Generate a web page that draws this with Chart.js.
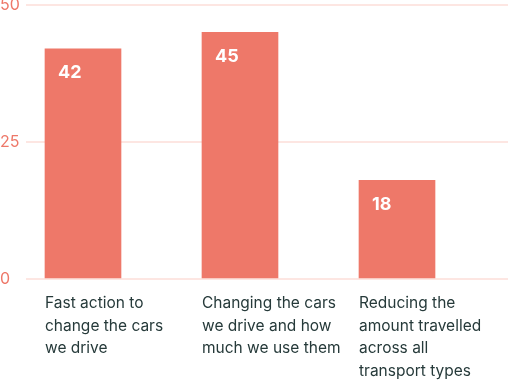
<!DOCTYPE html>
<html>
<head>
<meta charset="utf-8">
<script src="https://cdn.jsdelivr.net/npm/chart.js@4"></script>
<style>
  html, body { margin: 0; padding: 0; background: #ffffff; }
  #wrap { width: 508px; height: 381px; position: relative; }
</style>
</head>
<body>
<div id="wrap"><canvas id="c" width="508" height="381"></canvas></div>
<script>
// ---- data ----
const categories = [
  ["Fast action to", "change the cars", "we drive"],
  ["Changing the cars", "we drive and how", "much we use them"],
  ["Reducing the", "amount travelled", "across all", "transport types"]
];
const values = [42, 45, 18];
const yTickValues = [0, 25, 50];

// ---- styles ----
const barColor = "#ee7869";
const gridColor = "#fde6e2";
const yLabelColor = "#ee7869";
const xLabelColor = "#263a3a";
const fontFamily = "Inter, 'Noto Sans', sans-serif";

const barPositions = values.map((v, i) => i);

const valueLabelPlugin = {
  id: "valueLabels",
  afterDatasetsDraw(chart) {
    const ctx = chart.ctx;
    const meta = chart.getDatasetMeta(0);
    ctx.save();
    ctx.fillStyle = "#ffffff";
    ctx.font = "bold 18px " + fontFamily;
    ctx.textAlign = "left";
    ctx.textBaseline = "middle";
    meta.data.forEach((bar, i) => {
      const left = bar.x - bar.width / 2;
      ctx.fillText(String(values[i]), left + 13, bar.y + 24);
    });
    ctx.restore();
  }
};

new Chart(document.getElementById("c"), {
  type: "bar",
  data: {
    datasets: [{
      data: values.map((v, i) => ({ x: barPositions[i], y: v })),
      backgroundColor: barColor,
      borderWidth: 0,
      barThickness: 76
    }]
  },
  options: {
    responsive: false,
    animation: false,
    devicePixelRatio: 1,
    layout: { padding: 0 },
    plugins: { legend: { display: false }, tooltip: { enabled: false } },
    scales: {
      x: {
        type: "linear",
        offset: false,
        bounds: "data",
        min: -0.363,
        max: 2.707,
        grid: { display: false, offset: false },
        border: { display: false },
        afterBuildTicks(scale) {
          scale.ticks = barPositions.map(p => ({ value: p - 38 / 157 }));
        },
        afterFit(scale) {
          scale.paddingLeft = 0;
          scale.paddingRight = 0;
          scale.paddingTop = 0;
          scale.paddingBottom = 0;
          scale.height = 102;
        },
        ticks: {
          align: "start",
          autoSkip: false,
          maxRotation: 0,
          minRotation: 0,
          padding: 5,
          color: xLabelColor,
          font: { family: fontFamily, size: 15.5, lineHeight: 1.46 },
          callback(value, index) { return categories[index]; }
        }
      },
      y: {
        min: 0,
        max: 50,
        afterBuildTicks(scale) {
          scale.ticks = yTickValues.map(v => ({ value: v }));
        },
        afterFit(scale) {
          scale.width = 26;
          scale.paddingTop = 5;
          scale.paddingBottom = 0;
        },
        grid: { color: gridColor, lineWidth: 2, drawTicks: false },
        border: { display: false },
        ticks: {
          crossAlign: "far",
          padding: 8,
          color: yLabelColor,
          font: { family: fontFamily, size: 16 },
          callback(value) { return String(value); }
        }
      }
    }
  },
  plugins: [valueLabelPlugin]
});
</script>
</body>
</html>
